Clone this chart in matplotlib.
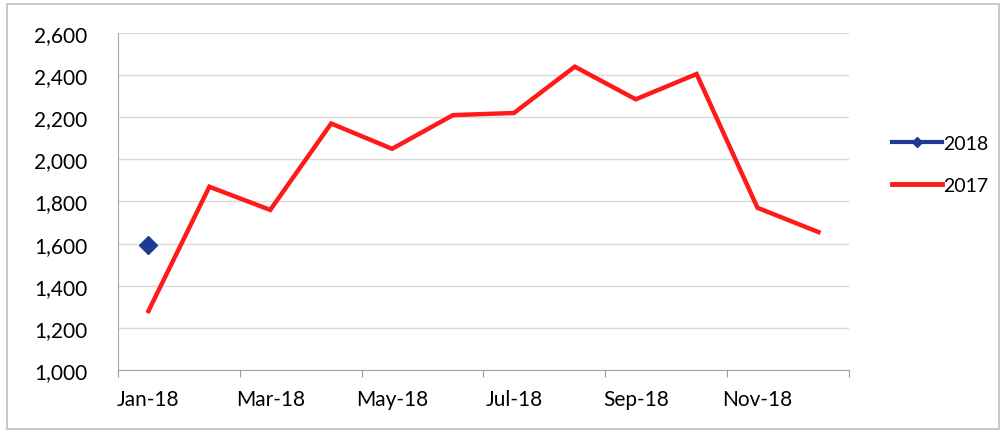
import matplotlib.pyplot as plt
from matplotlib.lines import Line2D
from matplotlib.patches import Rectangle

months = ['Jan-18', 'Feb-18', 'Mar-18', 'Apr-18', 'May-18', 'Jun-18',
          'Jul-18', 'Aug-18', 'Sep-18', 'Oct-18', 'Nov-18', 'Dec-18']
sales_2017 = [1280, 1870, 1760, 2170, 2050, 2210, 2220, 2440, 2285, 2405, 1770, 1655]
sales_2018 = [1595]

plt.rcParams['font.family'] = ['Lato', 'DejaVu Sans']

fig = plt.figure(figsize=(10.04, 4.35), dpi=100)
ax = fig.add_axes([0.1175, 0.147, 0.728, 0.775])

x = list(range(len(months)))
ax.plot(x, sales_2017, color='#ff1a1a', lw=3.2, solid_joinstyle='miter', zorder=3)
ax.plot(x[:len(sales_2018)], sales_2018, color='#1f3a93', marker='D',
        markersize=9, lw=3, zorder=4)

ax.set_xlim(-0.5, 11.5)
ax.set_ylim(1000, 2600)
ax.set_yticks(range(1000, 2601, 200))
ax.set_yticklabels([f'{v:,}' for v in range(1000, 2601, 200)])
ax.yaxis.grid(True, color='#d9d9d9', lw=1)
ax.set_axisbelow(True)

# ticks at every second month boundary, labels on the data points
ax.set_xticks([i - 0.5 for i in range(0, 13, 2)])
ax.set_xticklabels([])
ax.set_xticks(x[::2], minor=True)
ax.set_xticklabels(months[::2], minor=True)
ax.tick_params(axis='x', which='major', length=5, color='#999999')
ax.tick_params(axis='x', which='minor', length=0, pad=14, labelsize=15)
ax.tick_params(axis='y', length=0, pad=22, labelsize=15)

for s in ['top', 'right']:
    ax.spines[s].set_visible(False)
for s in ['left', 'bottom']:
    ax.spines[s].set_color('#a6a6a6')

handles = [Line2D([], [], color='#1f3a93', marker='D', markersize=5, lw=3),
           Line2D([], [], color='#ff1a1a', lw=3.5)]
fig.legend(handles, ['2018', '2017'], loc='center left', bbox_to_anchor=(0.888, 0.62),
           frameon=False, fontsize=14, handlelength=2.6, handletextpad=0.05,
           labelspacing=1.3, borderpad=0, borderaxespad=0)

fig.patches.append(Rectangle((0.007, 0.012), 0.988, 0.976, transform=fig.transFigure,
                             fill=False, edgecolor='#bfbfbf', lw=1.2))

fig.savefig('out.png', dpi=100)
